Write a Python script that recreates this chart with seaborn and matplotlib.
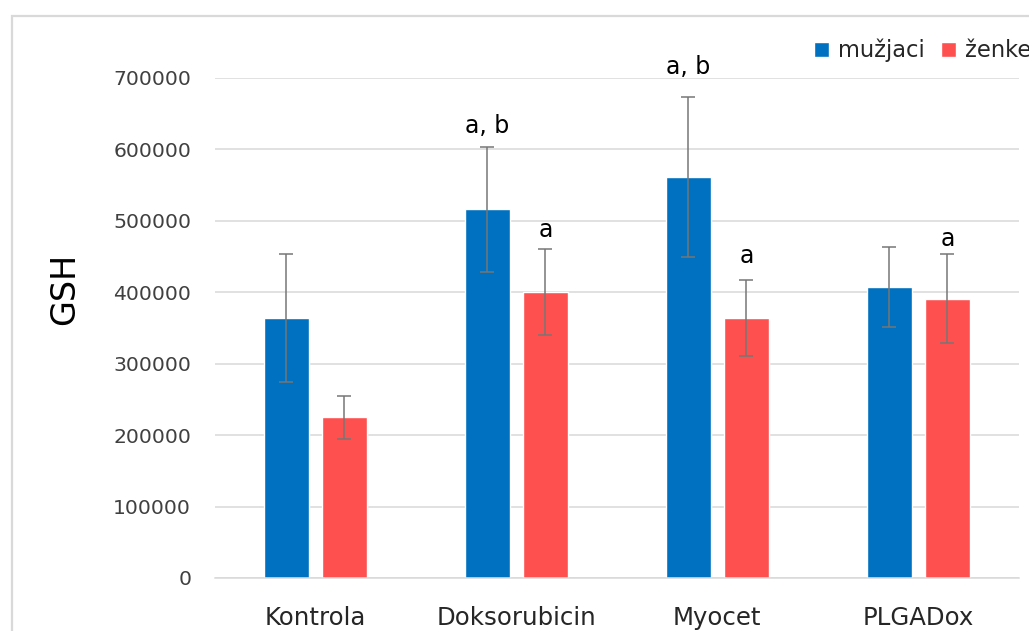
import numpy as np
import pandas as pd
import seaborn as sns
import matplotlib.pyplot as plt
from matplotlib.patches import Rectangle

# data
groups = ['Kontrola', 'Doksorubicin', 'Myocet', 'PLGADox']
sexes = ['mužjaci', 'ženke']
male_mean = [364000, 516000, 561000, 408000]
female_mean = [225000, 400000, 364000, 391000]
male_err = [90000, 88000, 112000, 56000]
female_err = [30000, 60000, 53000, 62000]
male_marks = ['', 'a, b', 'a, b', '']
female_marks = ['', 'a', 'a', 'a']
male_mark_y = [np.nan, 623000, 705000, np.nan]
female_mark_y = [np.nan, 478000, 441000, 465000]
y_ticks = [0, 100000, 200000, 300000, 400000, 500000, 600000, 700000]

df = pd.DataFrame({
    'grupa': groups * 2,
    'spol': [sexes[0]] * 4 + [sexes[1]] * 4,
    'GSH': male_mean + female_mean,
})
errs = [male_err, female_err]
marks = [male_marks, female_marks]
mark_y = [male_mark_y, female_mark_y]

sns.set_style('white')
plt.rcParams['font.family'] = ['DejaVu Sans']

fig = plt.figure(figsize=(10.29, 6.31), dpi=100)
ax = fig.add_axes([0.2087, 0.0840, 0.7813, 0.7924])

sns.barplot(data=df, x='grupa', y='GSH', hue='spol', order=groups, hue_order=sexes,
            palette=['#0070C0', '#FF5050'], width=0.58, gap=0.229, errorbar=None,
            saturation=1, ax=ax)

# error bars and significance letters on top of the seaborn bars
for cont, err, mk, my in zip(ax.containers, errs, marks, mark_y):
    xs = [b.get_x() + b.get_width() / 2 for b in cont]
    hs = [b.get_height() for b in cont]
    ax.errorbar(xs, hs, yerr=err, fmt='none', ecolor='#767676', elinewidth=1.1,
                capsize=4.7, capthick=1.1, zorder=3)
    for x, t, y in zip(xs, mk, my):
        if t:
            ax.text(x, y, t, ha='center', va='baseline', fontsize=17, color='black', clip_on=False)

ax.set_xlim(-0.5, 3.5)
ax.set_ylim(0, 700000)
ax.set_yticks(y_ticks)
ax.set_yticklabels([str(v) for v in y_ticks])
ax.yaxis.grid(True, color='#d9d9d9', lw=1.1)
ax.set_axisbelow(True)
for s in ['left', 'right', 'top']:
    ax.spines[s].set_visible(False)
ax.spines['bottom'].set_color('#d9d9d9')
ax.spines['bottom'].set_linewidth(1.1)
ax.tick_params(axis='y', length=0, pad=17, labelsize=14.7, labelcolor='#404040')
ax.tick_params(axis='x', length=0, pad=20, labelsize=17.6, labelcolor='#262626')
ax.set_xlabel('')
ax.set_ylabel('GSH', fontsize=24, color='black')
ax.yaxis.label.set_va('center')
ax.yaxis.set_label_coords(-0.187, 0.578)

handles, labels = ax.get_legend_handles_labels()
ax.legend(handles, labels, ncol=2, loc='center left', bbox_to_anchor=(814 / 1029, 0.92),
          bbox_transform=fig.transFigure, frameon=False, fontsize=16.3, borderpad=0,
          borderaxespad=0, handlelength=0.66, handleheight=0.66, handletextpad=0.4,
          columnspacing=0.7, labelcolor='#262626')

# outer chart frame, cut off at right and bottom like the reference
fig.add_artist(Rectangle((12 / 1029, -0.05), 1.2, (631 - 16) / 631 + 0.05,
                         transform=fig.transFigure, fill=False, edgecolor='#d9d9d9', lw=1.6))

fig.savefig('out.png', dpi=100, facecolor='white')
